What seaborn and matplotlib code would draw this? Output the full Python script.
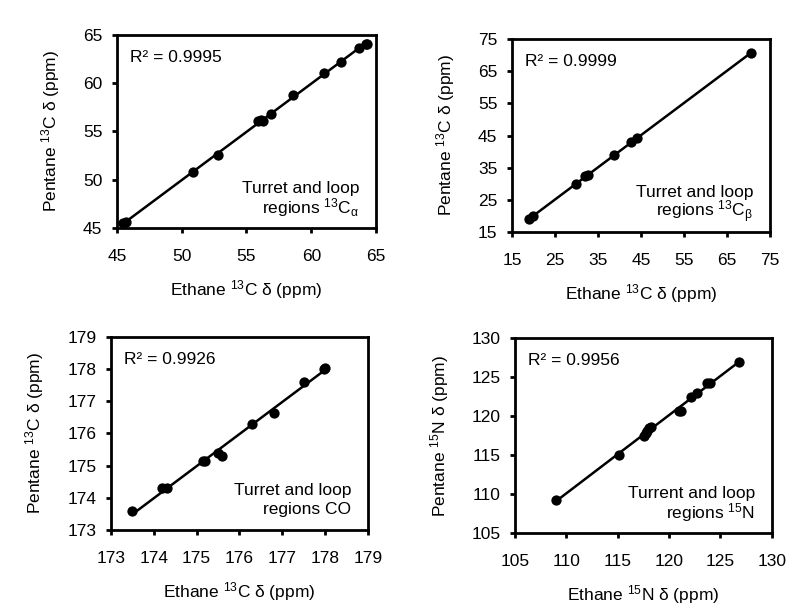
import matplotlib
matplotlib.use("Agg")
import matplotlib.pyplot as plt
import seaborn as sns
import numpy as np
import pandas as pd

# Panel data
ca_ethane = [45.5, 45.7, 50.9, 52.8, 55.9, 56.1, 56.3, 56.9, 58.6, 61.0, 62.3, 63.7, 64.2, 64.3]
ca_pentane = [45.5, 45.6, 50.8, 52.6, 56.1, 56.2, 56.1, 56.8, 58.8, 61.1, 62.2, 63.6, 64.1, 64.1]

cb_ethane = [19.0, 20.0, 30.0, 32.0, 32.6, 38.8, 42.7, 44.0, 70.6]
cb_pentane = [19.0, 20.0, 30.0, 32.4, 32.6, 38.8, 42.9, 44.2, 70.6]

co_ethane = [173.5, 174.2, 174.3, 175.15, 175.2, 175.5, 175.6, 176.3, 176.8, 177.5, 177.98, 178.0]
co_pentane = [173.6, 174.3, 174.3, 175.15, 175.15, 175.4, 175.3, 176.3, 176.65, 177.6, 178.0, 178.05]

n_ethane = [109.0, 115.1, 117.6, 117.7, 117.8, 118.0, 118.2, 121.0, 121.2, 122.1, 122.7, 123.7, 124.0, 126.8]
n_pentane = [109.2, 115.0, 117.5, 117.8, 118.1, 118.5, 118.6, 120.6, 120.6, 122.4, 123.0, 124.2, 124.2, 127.0]

r2_labels = ["R² = 0.9995", "R² = 0.9999", "R² = 0.9926", "R² = 0.9956"]
note_line1 = ["Turret and loop", "Turret and loop", "Turret and loop", "Turrent and loop"]
note_line2 = [r"regions $\mathregular{^{13}C_{α}}$", r"regions $\mathregular{^{13}C_{β}}$",
              "regions CO", r"regions $\mathregular{^{15}N}$"]
xlabels = [r"Ethane $\mathregular{^{13}}$C δ (ppm)", r"Ethane $\mathregular{^{13}}$C δ (ppm)",
           r"Ethane $\mathregular{^{13}}$C δ (ppm)", r"Ethane $\mathregular{^{15}}$N δ (ppm)"]
ylabels = [r"Pentane $\mathregular{^{13}}$C δ (ppm)", r"Pentane $\mathregular{^{13}}$C δ (ppm)",
           r"Pentane $\mathregular{^{13}}$C δ (ppm)", r"Pentane $\mathregular{^{15}}$N δ (ppm)"]
limits = [(45, 65), (15, 75), (173, 179), (105, 130)]
ticks = [list(range(45, 66, 5)), list(range(15, 76, 10)), list(range(173, 180)), list(range(105, 131, 5))]

sns.set_style("ticks")
plt.rcParams['font.family'] = ['Liberation Sans', 'DejaVu Sans']
plt.rcParams['mathtext.fontset'] = 'custom'
plt.rcParams['mathtext.rm'] = 'Liberation Sans'
plt.rcParams['mathtext.it'] = 'Liberation Sans'
plt.rcParams['mathtext.bf'] = 'Liberation Sans'
plt.rcParams['text.color'] = 'black'
plt.rcParams['axes.labelcolor'] = 'black'

fig = plt.figure(figsize=(7.9, 6.09), dpi=100)
rects = [
    [0.148, 0.6256, 0.328, 0.317],
    [0.648, 0.619, 0.3266, 0.317],
    [0.1405, 0.1297, 0.325, 0.317],
    [0.652, 0.1248, 0.325, 0.320],
]
datasets = [(ca_ethane, ca_pentane), (cb_ethane, cb_pentane), (co_ethane, co_pentane), (n_ethane, n_pentane)]
FS = 12.5

for i, (xs, ys) in enumerate(datasets):
    ax = fig.add_axes(rects[i])
    df = pd.DataFrame({"x": xs, "y": ys})
    sns.regplot(data=df, x="x", y="y", ax=ax, ci=None, truncate=True,
                scatter_kws={"s": 55, "color": "black", "alpha": 1, "linewidths": 0},
                line_kws={"color": "black", "lw": 1.8})
    ax.set_xlim(*limits[i])
    ax.set_ylim(*limits[i])
    ax.set_xticks(ticks[i])
    ax.set_yticks(ticks[i])
    for s in ax.spines.values():
        s.set_visible(True)
        s.set_linewidth(2.0)
        s.set_color("black")
    ax.tick_params(axis="both", direction="out", length=3.5, width=2.0, labelsize=FS,
                   colors="black", top=False, right=False)
    ax.tick_params(axis="x", pad=11.5)
    ax.tick_params(axis="y", pad=7)
    ax.set_xlabel(xlabels[i], fontsize=FS, labelpad=10)
    ax.set_ylabel(ylabels[i], fontsize=FS, labelpad=15)
    ax.text(0.05, 0.885, r2_labels[i], transform=ax.transAxes, fontsize=FS, va="center", ha="left")
    ax.text(0.935, 0.205, note_line1[i], transform=ax.transAxes, fontsize=FS, va="center", ha="right")
    ax.text(0.935, 0.105, note_line2[i], transform=ax.transAxes, fontsize=FS, va="center", ha="right")

fig.savefig("out.png", dpi=100, facecolor="white")
